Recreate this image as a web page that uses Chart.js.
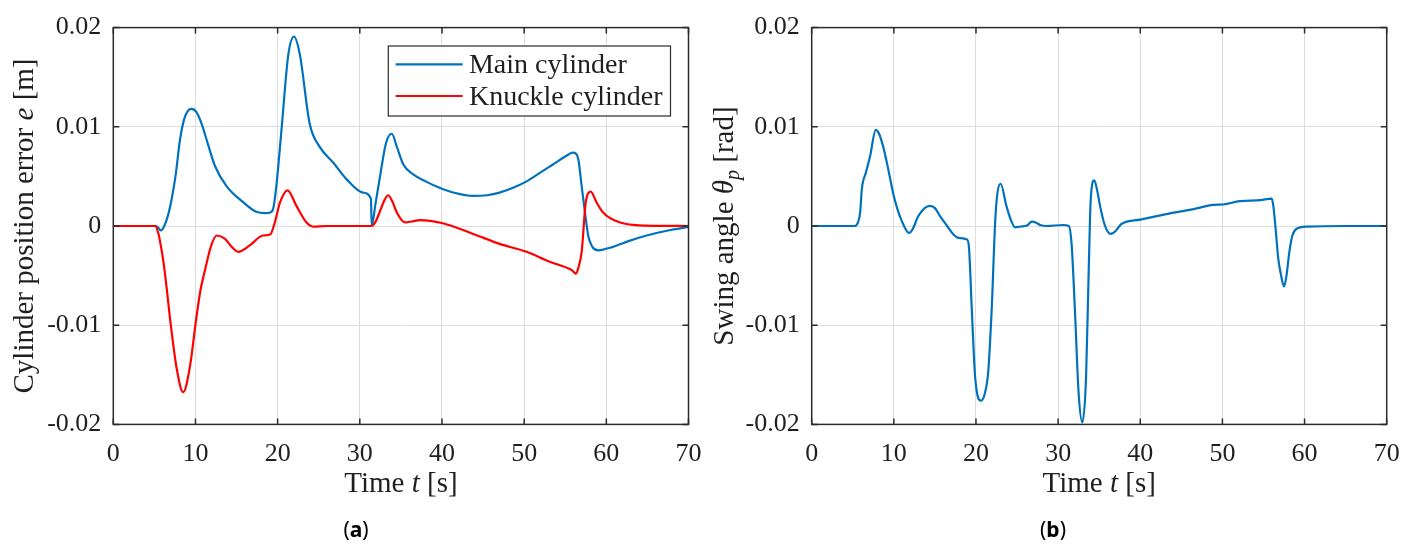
<!DOCTYPE html>
<html>
<head>
<meta charset="utf-8">
<script src="https://cdn.jsdelivr.net/npm/chart.js@4.4.1/dist/chart.umd.min.js"></script>
<style>
  html, body { margin: 0; padding: 0; background: #fff; }
  #wrap { position: relative; width: 1416px; height: 545px; overflow: hidden; }
  canvas { position: absolute; top: 0; }
  #chartA { left: 0; }
  #chartB { left: 700px; }
  .cap { position: absolute; top: 515px; font-family: 'Noto Sans', sans-serif; font-size: 21px; color: #000; transform: translateX(-50%); }
</style>
</head>
<body>
<div id="wrap">
  <canvas id="chartA" width="720" height="545"></canvas>
  <canvas id="chartB" width="716" height="545"></canvas>
  <div class="cap" style="left:356px">(<b>a</b>)</div>
  <div class="cap" style="left:1053px">(<b>b</b>)</div>
</div>
<script>
// axis ticks
const xTicks = [0, 10, 20, 30, 40, 50, 60, 70];
const yTicks = [-0.02, -0.01, 0, 0.01, 0.02];

const seriesNames = ['Main cylinder', 'Knuckle cylinder'];

// (a) main cylinder position error [m]
const mainTime = [0, 5.2, 5.5, 5.8, 6.2, 6.7, 7.1, 7.6, 8.1, 8.6, 9.0, 9.5, 10.1, 10.75, 11.5, 12.4, 13.8, 15.8, 17.4, 18.5, 19.1,
  19.5, 19.9, 20.5, 21.3, 22.0, 22.7, 23.9, 25.1, 26.8, 28.4, 30.4, 31.35, 31.45, 31.9, 32.4, 33.2, 33.9, 34.5, 35.3, 36.5,
  38.0, 39.7, 41.5, 43.8, 45.5, 47.0, 48.8, 50.3, 52.0, 53.5, 55.0, 55.9, 56.3, 56.6, 57.0, 57.4, 57.8, 58.3, 59.0, 60.8,
  62.8, 64.9, 67.5, 70];
const mainError = [0, 0, -0.0002, -0.00045, 0, 0.0012, 0.0027, 0.0052, 0.0086, 0.0107, 0.0115, 0.0118, 0.0115, 0.0103, 0.0083, 0.0060, 0.0040, 0.0024, 0.00143, 0.0013, 0.00137,
  0.0019, 0.0045, 0.0100, 0.0173, 0.0191, 0.0173, 0.0103, 0.0080, 0.00635, 0.0047, 0.00336, 0.00276, 0, 0.0022, 0.0047, 0.0084, 0.0093, 0.0080, 0.0062, 0.0052,
  0.0045, 0.00386, 0.00335, 0.00303, 0.0031, 0.00336, 0.0039, 0.0045, 0.0054, 0.0062, 0.0070, 0.0074, 0.0073, 0.0067, 0.0040, 0.00137, -0.0010, -0.0021, -0.00245, -0.0021,
  -0.0015, -0.00096, -0.00045, -0.0001];

// (a) knuckle cylinder position error [m]
const knuckleTime = [0, 5.1, 5.5, 5.7, 6.1, 6.5, 6.9, 7.7, 8.5, 9.3, 10.1, 10.6, 11.2, 11.9, 12.6, 13.6, 14.4, 15.2, 16.6, 18.2,
  19.1, 19.6, 20.3, 21.2, 22.3, 23.5, 24.3, 26.0, 31.4, 31.9, 32.4, 33.0, 33.45, 34.0, 34.5, 35.5, 36.3, 37.3, 40.0, 43.8,
  47.0, 50.3, 53.1, 55.8, 56.3, 56.6, 57.0, 57.5, 58.1, 58.8, 59.6, 61.6, 64.9, 70];
const knuckleError = [0, 0, -0.0008, -0.0016, -0.0036, -0.0063, -0.0093, -0.0143, -0.01675, -0.0143, -0.0093, -0.0065, -0.0043, -0.0020, -0.00096, -0.0013, -0.0021, -0.0026, -0.00196, -0.00096,
  -0.00086, 0.0002, 0.0024, 0.0036, 0.0020, 0.00037, -0.00006, 0, 0, 0.0004, 0.00137, 0.0026, 0.0031, 0.0024, 0.00137, 0.00037, 0.00045, 0.0006, 0.0003, -0.0008,
  -0.0018, -0.0026, -0.0036, -0.00445, -0.0048, -0.0042, -0.0026, 0.0024, 0.00346, 0.0024, 0.00137, 0.00037, 0.00004, 0];

// (b) swing angle [rad]
const swingTime = [0, 5.2, 5.6, 5.9, 6.1, 6.6, 7.1, 7.8, 8.2, 8.7, 9.3, 9.9, 10.4, 10.95, 11.85, 12.3, 13.0, 14.4, 15.0, 15.6,
  16.4, 17.2, 17.9, 18.9, 19.15, 19.5, 19.9, 20.6, 21.1, 21.5, 21.9, 22.4, 23.0, 23.7, 24.3, 24.75, 25.4, 26.2, 26.8, 27.4,
  27.8, 28.6, 30.6, 31.3, 31.65, 32.05, 32.5, 32.95, 33.4, 33.7, 33.97, 34.4, 34.8, 35.1, 35.7, 36.4, 37.0, 37.7, 40.0, 43.2,
  46.5, 48.9, 50.1, 52.1, 54.6, 56.0, 56.2, 56.5, 56.8, 57.1, 57.5, 57.8, 58.15, 58.5, 59.0, 60.3, 65.0, 70];
const swingAngle = [0, 0, 0.0003, 0.00137, 0.0037, 0.0054, 0.0070, 0.0097, 0.0093, 0.0080, 0.0058, 0.00336, 0.0018, 0.00054, -0.0007, -0.0003, 0.00103, 0.00203, 0.0018, 0.00103,
  0.0001, -0.0008, -0.0012, -0.00136, -0.0022, -0.0086, -0.01525, -0.0176, -0.0168, -0.0146, -0.0086, 0.00137, 0.00426, 0.00203, 0.0005, -0.00013, -0.00005, 0.00005, 0.00044, 0.0003,
  0.0001, 0, 0.0001, 0, -0.00196, -0.0086, -0.0169, -0.0198, -0.01525, -0.0053, 0.0027, 0.0046, 0.0034, 0.00203, 0.00004, -0.0008, -0.0005, 0.0002, 0.00064, 0.0012,
  0.0017, 0.00213, 0.00217, 0.0025, 0.0026, 0.00276, 0.00203, -0.0005, -0.0033, -0.0048, -0.0061, -0.0050, -0.0026, -0.0010, -0.0003, -0.00006, 0, 0];

const SERIF = "'Liberation Serif', 'DejaVu Serif', serif";
const INK = '#1f1f1f';
const AXIS = '#2b2b2b';
const GRID = '#dedede';
const BLUE = '#0072BD';
const RED = '#FF0000';

function pts(ts, vs) {
  return ts.map((t, i) => ({ x: t, y: vs[i] }));
}

function drawRich(ctx, segs, x, y, rot) {
  ctx.save();
  ctx.translate(x, y);
  ctx.rotate(rot);
  ctx.fillStyle = INK;
  ctx.textBaseline = 'alphabetic';
  ctx.textAlign = 'left';
  const fontOf = s => (s.italic ? 'italic ' : '') + (s.sub ? 20 : 29) + 'px ' + SERIF;
  let total = 0;
  const widths = segs.map(s => {
    ctx.font = fontOf(s);
    const w = ctx.measureText(s.text).width;
    total += w;
    return w;
  });
  let cx = -total / 2;
  segs.forEach((s, i) => {
    ctx.font = fontOf(s);
    ctx.fillText(s.text, cx, s.sub ? 6 : 0);
    cx += widths[i];
  });
  ctx.restore();
}

function drawLegend(chart) {
  const { ctx, chartArea: a } = chart;
  ctx.save();
  ctx.font = '28px ' + SERIF;
  const tw = Math.max(...chart.data.datasets.map(d => ctx.measureText(d.label).width));
  const right = a.right - 18, top = a.top + 18.4, h = 70;
  const left = right - (80.6 + tw + 8);
  ctx.fillStyle = '#fff';
  ctx.fillRect(left, top, right - left, h);
  ctx.strokeStyle = AXIS;
  ctx.lineWidth = 1.2;
  ctx.strokeRect(left, top, right - left, h);
  chart.data.datasets.forEach((d, i) => {
    const ly = top + 18.3 + i * 31.7;
    ctx.strokeStyle = d.borderColor;
    ctx.lineWidth = 2.2;
    ctx.beginPath();
    ctx.moveTo(left + 7.3, ly);
    ctx.lineTo(left + 74.3, ly);
    ctx.stroke();
    ctx.fillStyle = INK;
    ctx.textBaseline = 'alphabetic';
    ctx.textAlign = 'left';
    ctx.fillText(d.label, left + 80.6, ly + 8.5);
  });
  ctx.restore();
}

// matlab-like box with inward ticks, rich axis titles and inside legend
const framePlugin = {
  id: 'frame',
  afterDatasetsDraw(chart, args, opts) {
    const { ctx, chartArea: a, scales: { x, y } } = chart;
    ctx.save();
    ctx.strokeStyle = AXIS;
    ctx.lineWidth = 1.5;
    ctx.strokeRect(a.left, a.top, a.right - a.left, a.bottom - a.top);
    ctx.beginPath();
    xTicks.forEach(v => {
      const px = x.getPixelForValue(v);
      ctx.moveTo(px, a.bottom); ctx.lineTo(px, a.bottom - 6);
      ctx.moveTo(px, a.top); ctx.lineTo(px, a.top + 6);
    });
    yTicks.forEach(v => {
      const py = y.getPixelForValue(v);
      ctx.moveTo(a.left, py); ctx.lineTo(a.left + 6, py);
      ctx.moveTo(a.right, py); ctx.lineTo(a.right - 6, py);
    });
    ctx.stroke();
    ctx.restore();

    drawRich(ctx, opts.xTitle, (a.left + a.right) / 2, 492, 0);
    drawRich(ctx, opts.yTitle, 33.3, (a.top + a.bottom) / 2, -Math.PI / 2);
    if (opts.legend) drawLegend(chart);
  }
};

function makeScales(yWidth) {
  return {
    x: {
      type: 'linear',
      min: 0,
      max: 70,
      afterBuildTicks: s => { s.ticks = xTicks.map(v => ({ value: v })); },
      afterFit: s => { s.height = 75.2; },
      grid: { color: GRID, lineWidth: 1, drawTicks: false },
      border: { display: false },
      ticks: {
        padding: 14,
        autoSkip: false,
        maxRotation: 0,
        color: INK,
        font: { family: SERIF, size: 26 },
        callback: v => String(v)
      }
    },
    y: {
      type: 'linear',
      min: -0.02,
      max: 0.02,
      afterBuildTicks: s => { s.ticks = yTicks.map(v => ({ value: v })); },
      afterFit: s => { s.width = yWidth; },
      grid: { color: GRID, lineWidth: 1, drawTicks: false },
      border: { display: false },
      ticks: {
        padding: 12,
        autoSkip: false,
        color: INK,
        font: { family: SERIF, size: 26 },
        callback: v => (v === 0 ? '0' : v.toFixed(2))
      }
    }
  };
}

const lineStyle = { borderWidth: 2.2, pointRadius: 0, fill: false, cubicInterpolationMode: 'monotone' };

new Chart(document.getElementById('chartA'), {
  type: 'line',
  data: {
    datasets: [
      Object.assign({ label: seriesNames[0], data: pts(mainTime, mainError), borderColor: BLUE, order: 1 }, lineStyle),
      Object.assign({ label: seriesNames[1], data: pts(knuckleTime, knuckleError), borderColor: RED, order: 0 }, lineStyle)
    ]
  },
  options: {
    responsive: false,
    animation: false,
    events: [],
    layout: { padding: { top: 23.3, right: 31.5, bottom: 45.4, left: 0 } },
    scales: makeScales(113.3),
    plugins: {
      legend: { display: false },
      tooltip: { enabled: false },
      frame: {
        legend: true,
        xTitle: [{ text: 'Time ' }, { text: 't', italic: true }, { text: ' [s]' }],
        yTitle: [{ text: 'Cylinder position error ' }, { text: 'e', italic: true }, { text: ' [m]' }]
      }
    }
  },
  plugins: [framePlugin]
});

new Chart(document.getElementById('chartB'), {
  type: 'line',
  data: {
    datasets: [
      Object.assign({ label: 'Swing angle', data: pts(swingTime, swingAngle), borderColor: BLUE }, lineStyle)
    ]
  },
  options: {
    responsive: false,
    animation: false,
    events: [],
    layout: { padding: { top: 23.3, right: 29.3, bottom: 45.4, left: 0 } },
    scales: makeScales(111.7),
    plugins: {
      legend: { display: false },
      tooltip: { enabled: false },
      frame: {
        legend: false,
        xTitle: [{ text: 'Time ' }, { text: 't', italic: true }, { text: ' [s]' }],
        yTitle: [{ text: 'Swing angle ' }, { text: 'θ', italic: true }, { text: 'p', italic: true, sub: true }, { text: ' [rad]' }]
      }
    }
  },
  plugins: [framePlugin]
});
</script>
</body>
</html>
